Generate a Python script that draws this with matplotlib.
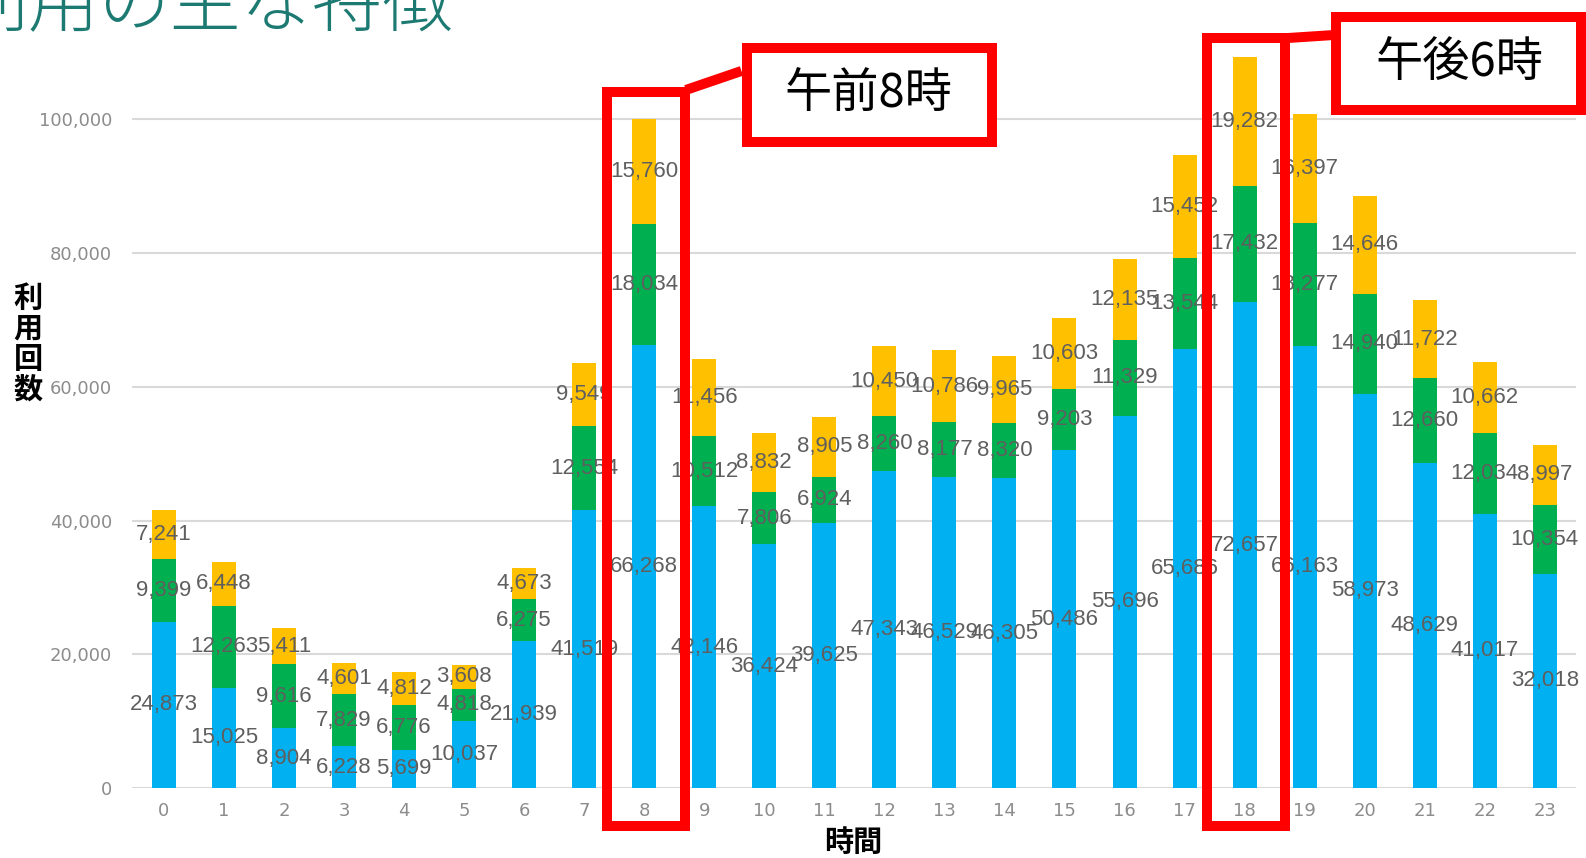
import matplotlib
matplotlib.use("Agg")
import matplotlib.pyplot as plt
from matplotlib.patches import Rectangle
from matplotlib.lines import Line2D

plt.rcParams['font.family'] = ['Noto Sans CJK JP', 'DejaVu Sans']

hours = list(range(24))
hour_labels = [str(h) for h in hours]
blue_vals = [24873, 15025, 8904, 6228, 5699, 10037, 21939, 41519, 66268, 42146, 36424, 39625,
             47343, 46529, 46305, 50486, 55696, 65686, 72657, 66163, 58973, 48629, 41017, 32018]
green_vals = [9399, 12263, 9616, 7829, 6776, 4818, 6275, 12554, 18034, 10512, 7806, 6924,
              8260, 8177, 8320, 9203, 11329, 13544, 17432, 18277, 14940, 12660, 12034, 10354]
yellow_vals = [7241, 6448, 5411, 4601, 4812, 3608, 4673, 9549, 15760, 11456, 8832, 8905,
               10450, 10786, 9965, 10603, 12135, 15452, 19282, 16397, 14646, 11722, 10662, 8997]
yticks = [0, 20000, 40000, 60000, 80000, 100000]
title = "利用の主な特徴"
ylabel = "利用回数"
xlabel = "時間"
callouts = ["午前8時", "午後6時"]

W, H = 1586, 858
fig = plt.figure(figsize=(W / 100, H / 100), dpi=100)
ax = fig.add_axes([131.5 / W, 70 / H, (1576 - 131.5) / W, 775.6 / H])

c_blue, c_green, c_yellow = '#00B0F0', '#00B050', '#FFC000'
width = 0.4
bottoms2 = [b + g for b, g in zip(blue_vals, green_vals)]
b1 = ax.bar(hours, blue_vals, width, color=c_blue, zorder=2)
b2 = ax.bar(hours, green_vals, width, bottom=blue_vals, color=c_green, zorder=2)
b3 = ax.bar(hours, yellow_vals, width, bottom=bottoms2, color=c_yellow, zorder=2)

lab_family = ['Liberation Sans Narrow', 'Liberation Sans', 'DejaVu Sans']
for bars in (b1, b2, b3):
    texts = ax.bar_label(bars, fmt='{:,.0f}', label_type='center', zorder=4)
    for t in texts:
        t.set_fontfamily(lab_family)
        t.set_fontsize(16)
        t.set_color('#5f5f5f')

ax.set_xlim(-0.54, 23.52)
ax.set_ylim(0, 116000)
ax.set_yticks(yticks)
ax.set_yticklabels([f"{v:,}" for v in yticks], fontfamily='DejaVu Sans', fontsize=13, color='#8c8c8c')
ax.set_xticks(hours)
ax.set_xticklabels(hour_labels, fontfamily='DejaVu Sans', fontsize=13, color='#8c8c8c')
ax.tick_params(axis='both', length=0)
ax.tick_params(axis='y', pad=14)
ax.tick_params(axis='x', pad=10)
ax.grid(axis='y', color='#d9d9d9', linewidth=1.5, zorder=0)
for s in ax.spines.values():
    s.set_visible(False)

# Axis titles
fig.text(28 / W, 1 - 344 / H, "\n".join(ylabel), ha='center', va='center', fontsize=21,
         fontweight='bold', linespacing=1.02, color='black')
fig.text(853 / W, 1 - 842 / H, xlabel, ha='center', va='center', fontsize=21,
         fontweight='bold', color='black')

# Title (cropped at top/left)
fig.text(-42 / W, 1 - 26 / H, title, ha='left', va='baseline', fontsize=51,
         fontweight='light', color='#1C7A72')

# Highlight boxes and callouts
red = '#FF0000'
lw = 7.2
ax.add_patch(Rectangle((7.373, -5683), 8.678 - 7.373, 104140 + 5683, fill=False,
                       edgecolor=red, linewidth=lw, clip_on=False, zorder=5))
ax.add_patch(Rectangle((17.367, -5683), 18.671 - 17.367, 112130 + 5683, fill=False,
                       edgecolor=red, linewidth=lw, clip_on=False, zorder=5))
ax.add_patch(Rectangle((9.705, 96665), 13.786 - 9.705, 110630 - 96665, facecolor='white',
                       edgecolor=red, linewidth=lw, clip_on=False, zorder=5))
ax.add_patch(Rectangle((19.53, 101400), 23.6 - 19.53, 115360 - 101400, facecolor='white',
                       edgecolor=red, linewidth=lw, clip_on=False, zorder=5))
ax.add_line(Line2D([8.694, 9.62], [104400, 107240], color=red, linewidth=lw,
                   clip_on=False, zorder=5, solid_capstyle='butt'))
ax.add_line(Line2D([18.72, 19.49], [112170, 112620], color=red, linewidth=lw,
                   clip_on=False, zorder=5, solid_capstyle='butt'))
ax.text(11.74, 103650, callouts[0], ha='center', va='center', fontsize=34, fontweight='normal',
        color='black', zorder=6, clip_on=False)
ax.text(21.57, 108430, callouts[1], ha='center', va='center', fontsize=34, fontweight='normal',
        color='black', zorder=6, clip_on=False)

fig.savefig("out.png", dpi=100)
